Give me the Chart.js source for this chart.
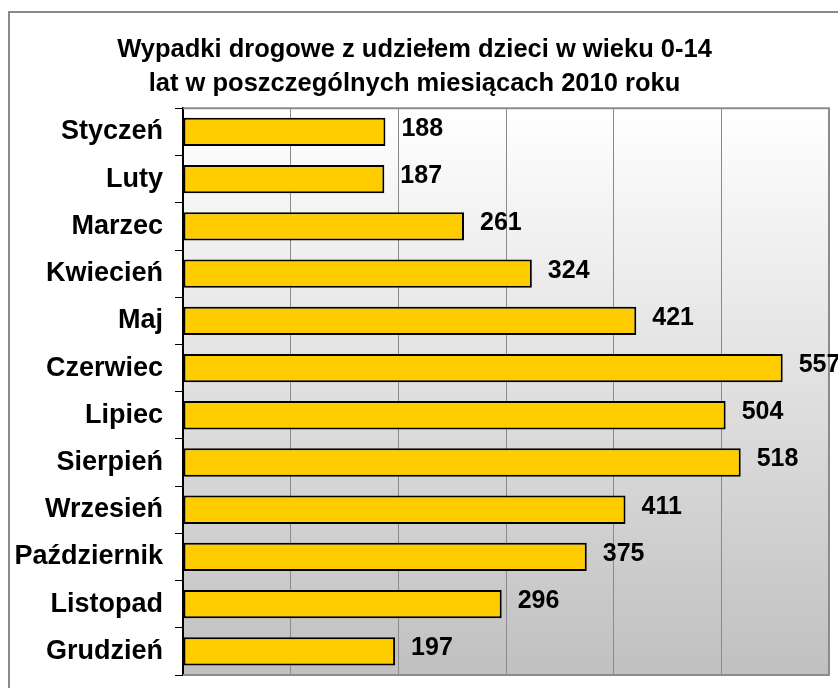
<!DOCTYPE html>
<html>
<head>
<meta charset="utf-8">
<script src="https://cdn.jsdelivr.net/npm/chart.js@4/dist/chart.umd.min.js"></script>
<style>
html,body{margin:0;padding:0;background:#fff;}
#wrap{width:838px;height:688px;position:relative;}
</style>
</head>
<body>
<div id="wrap"><canvas id="c" width="838" height="688"></canvas></div>
<script>
const titleLines = ["Wypadki drogowe z udziełem dzieci w wieku 0-14", "lat w poszczególnych miesiącach 2010 roku"];
const months = ["Styczeń","Luty","Marzec","Kwiecień","Maj","Czerwiec","Lipiec","Sierpień","Wrzesień","Październik","Listopad","Grudzień"];
const accidents = [188,187,261,324,421,557,504,518,411,375,296,197];
const axisMin = 0, axisMax = 600, axisStep = 100;

const FONT = "'Liberation Sans', Arial, sans-serif";

const framePlugin = {
  id: 'frame',
  beforeDraw(chart) {
    const ctx = chart.ctx, a = chart.chartArea;
    ctx.save();
    ctx.fillStyle = '#fff';
    ctx.fillRect(0, 0, chart.width, chart.height);
    ctx.strokeStyle = '#8a8a8a';
    ctx.lineWidth = 2;
    ctx.strokeRect(9, 12, chart.width + 20, chart.height + 20);
    const g = ctx.createLinearGradient(0, a.top, 0, a.bottom);
    g.addColorStop(0, '#ffffff');
    g.addColorStop(1, '#c0c0c0');
    ctx.fillStyle = g;
    ctx.fillRect(a.left, a.top, a.right - a.left, a.bottom - a.top);
    ctx.restore();
  },
  afterDatasetsDraw(chart) {
    const ctx = chart.ctx, a = chart.chartArea;
    ctx.save();
    ctx.strokeStyle = '#8c8c8c';
    ctx.lineWidth = 2;
    ctx.beginPath();
    ctx.moveTo(a.left, a.top); ctx.lineTo(a.right, a.top);
    ctx.lineTo(a.right, a.bottom); ctx.lineTo(a.left, a.bottom);
    ctx.stroke();
    const meta = chart.getDatasetMeta(0);
    ctx.fillStyle = '#000';
    ctx.font = "bold 25px " + FONT;
    ctx.textAlign = 'left';
    ctx.textBaseline = 'middle';
    meta.data.forEach((el, i) => {
      const v = chart.data.datasets[0].data[i];
      ctx.fillText(String(v), el.x + 16, el.y - 3);
    });
    ctx.restore();
  }
};

new Chart(document.getElementById('c'), {
  type: 'bar',
  data: {
    labels: months,
    datasets: [{
      data: accidents,
      backgroundColor: '#FFCC00',
      borderColor: '#000000',
      borderWidth: 2,
      borderSkipped: false,
      barPercentage: 0.6,
      categoryPercentage: 1.0,
      clip: false
    }]
  },
  options: {
    indexAxis: 'y',
    responsive: false,
    animation: false,
    devicePixelRatio: 1,
    layout: { padding: { left: 0, right: 9, top: 0, bottom: 0 } },
    plugins: {
      legend: { display: false },
      tooltip: { enabled: false },
      title: {
        display: true,
        text: titleLines,
        color: '#000',
        font: { family: FONT, size: 25.5, weight: 'bold', lineHeight: 1.34 },
        padding: { top: 33, bottom: 7 }
      }
    },
    scales: {
      x: {
        min: axisMin, max: axisMax,
        ticks: { display: false, stepSize: axisStep },
        grid: { color: '#8a8a8a', lineWidth: 1, drawTicks: false },
        border: { display: false },
        afterFit(s) { s.height = 13; }
      },
      y: {
        ticks: {
          color: '#000',
          font: { family: FONT, size: 27, weight: 'bold' },
          padding: 12
        },
        grid: { drawOnChartArea: false, drawTicks: true, tickLength: 8, color: '#000', offset: true },
        border: { display: true, color: '#000', width: 2 },
        afterFit(s) { s.width = 183; s.paddingTop = 0; s.paddingBottom = 0; }
      }
    }
  },
  plugins: [framePlugin]
});
</script>
</body>
</html>
